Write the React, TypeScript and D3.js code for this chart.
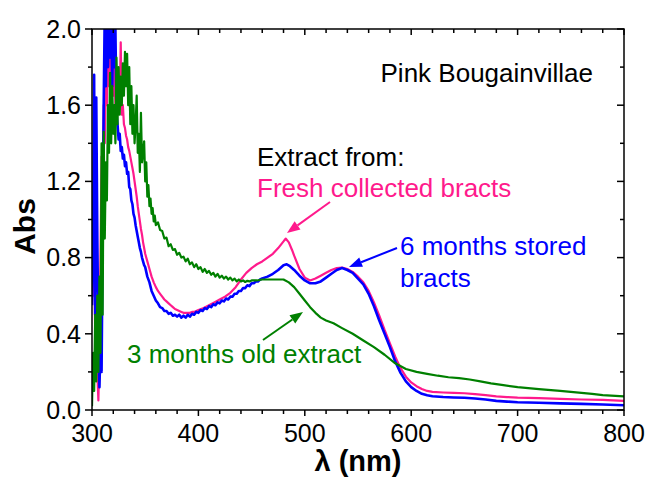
import React from "react";
import * as d3 from "d3";

// Absorbance spectra, [wavelength nm, Abs]
const fresh: [number, number][] = [
  [300,0.9],[301,0.6],[302,0.85],[303,0.4],[304,0.6],[305,0.2],[306,0.05],[307,0.3],[308,0.8],[309,1.33],
  [310,1.1],[311,1.6],[312,1.4],[313,1.75],[314,1.6],[315,2.0],[316,1.7],[317,1.88],[318,1.75],[319,1.85],
  [320,1.65],[321,1.8],[322,1.6],[323,1.75],[324,1.55],[325,1.7],[326,1.6],[327,1.93],[328,1.55],[329,1.6],
  [330,1.5],[331,1.48],[332,1.44],[333,1.42],[334,1.38],[335,1.36],[336,1.33],[337,1.3],[338,1.27],[339,1.24],
  [340,1.2],[341,1.16],[342,1.12],[343,1.07],[344,1.03],[345,0.99],[346,0.95],[347,0.92],[348,0.88],[349,0.85],
  [350,0.82],[352,0.78],[354,0.74],[356,0.7],[358,0.67],[360,0.645],[362,0.625],[364,0.61],[366,0.595],[368,0.58],
  [370,0.57],[372,0.56],[374,0.55],[376,0.54],[378,0.53],[380,0.525],[382,0.52],[384,0.515],[386,0.51],[388,0.51],
  [390,0.51],[392,0.51],[394,0.515],[396,0.515],[398,0.52],[400,0.525],[405,0.535],[410,0.55],[415,0.565],[420,0.58],
  [425,0.595],[430,0.615],[435,0.645],[440,0.685],[445,0.72],[450,0.745],[455,0.765],[460,0.78],[465,0.8],[470,0.82],
  [475,0.85],[480,0.885],[482,0.9],[485,0.88],[488,0.84],[490,0.81],[495,0.74],[500,0.695],[505,0.68],[510,0.69],
  [515,0.705],[520,0.72],[525,0.735],[530,0.745],[535,0.748],[540,0.74],[545,0.725],[550,0.7],[555,0.67],[560,0.625],
  [565,0.565],[570,0.495],[575,0.42],[580,0.35],[585,0.28],[590,0.22],[595,0.175],[600,0.145],[605,0.125],[610,0.11],
  [615,0.1],[620,0.095],[630,0.092],[640,0.09],[650,0.088],[660,0.083],[670,0.078],[680,0.072],[690,0.068],[700,0.065],
  [720,0.062],[740,0.058],[760,0.055],[780,0.053],[800,0.048],
];

const sixMonths: [number, number][] = [
  [300,0.55],[301,0.85],[302,1.76],[303,0.5],[304,1.64],[305,0.9],[306,0.4],[307,0.12],[308,0.35],[309,0.2],
  [310,0.9],[311,1.6],[312,2.1],[313,1.7],[314,2.1],[315,1.8],[316,2.1],[317,1.85],[318,2.1],[319,1.7],
  [320,2.05],[321,1.8],[322,2.0],[323,1.55],[324,1.5],[325,1.42],[326,1.45],[327,1.36],[328,1.38],[329,1.32],
  [330,1.34],[331,1.28],[332,1.3],[333,1.24],[334,1.25],[335,1.17],[336,1.16],[337,1.1],[338,1.08],[339,1.03],
  [340,1.01],[341,0.97],[342,0.94],[343,0.91],[344,0.88],[345,0.85],[346,0.83],[347,0.8],[348,0.78],[349,0.76],
  [350,0.75],[352,0.7],[354,0.67],[356,0.625],[358,0.6],[360,0.575],[362,0.56],[364,0.54],[366,0.535],[368,0.52],
  [370,0.52],[372,0.505],[374,0.51],[376,0.495],[378,0.5],[380,0.49],[382,0.5],[384,0.485],[386,0.495],[388,0.485],
  [390,0.5],[392,0.49],[394,0.505],[396,0.5],[398,0.515],[400,0.51],[402,0.525],[404,0.52],[406,0.535],[408,0.53],
  [410,0.545],[412,0.54],[414,0.555],[416,0.55],[418,0.565],[420,0.56],[422,0.575],[424,0.57],[426,0.585],[428,0.58],
  [430,0.595],[432,0.595],[434,0.61],[436,0.61],[438,0.625],[440,0.625],[442,0.64],[444,0.64],[446,0.655],[448,0.65],
  [450,0.665],[452,0.665],[454,0.675],[456,0.675],[458,0.685],[460,0.69],[465,0.7],[470,0.715],[475,0.735],[480,0.76],
  [483,0.765],[486,0.755],[490,0.735],[495,0.705],[500,0.68],[505,0.665],[510,0.665],[515,0.675],[520,0.695],[525,0.715],
  [530,0.735],[535,0.745],[540,0.735],[545,0.72],[550,0.69],[555,0.66],[560,0.61],[565,0.545],[570,0.47],[575,0.4],
  [580,0.33],[585,0.255],[590,0.195],[595,0.15],[600,0.12],[605,0.1],[610,0.085],[615,0.077],[620,0.072],[630,0.068],
  [640,0.066],[650,0.064],[660,0.06],[670,0.055],[680,0.048],[690,0.044],[700,0.041],[720,0.038],[740,0.035],[760,0.032],
  [780,0.029],[800,0.025],
];

const threeMonths: [number, number][] = [
  [300,0.02],[301,0.3],[302,0.1],[303,0.5],[304,0.15],[305,0.6],[306,0.2],[307,0.7],[308,0.3],[309,1.4],
  [310,0.5],[311,1.46],[312,0.9],[313,1.3],[314,1.1],[315,1.6],[316,1.35],[317,1.77],[318,1.4],[319,1.7],
  [320,1.45],[321,1.6],[322,1.4],[323,1.85],[324,1.5],[325,1.8],[326,1.55],[327,1.75],[328,1.6],[329,1.82],
  [330,1.65],[331,1.88],[332,1.7],[333,1.87],[334,1.6],[335,1.8],[336,1.5],[337,1.7],[338,1.45],[339,1.6],
  [340,1.4],[341,1.5],[342,1.65],[343,1.35],[344,1.45],[345,1.25],[346,1.56],[347,1.3],[348,1.35],[349,1.41],
  [350,1.2],[351,1.3],[352,1.12],[353,1.18],[354,1.07],[355,1.11],[356,1.03],[357,1.06],[358,0.99],[359,1.02],
  [360,0.97],[362,0.985],[364,0.945],[366,0.94],[368,0.9],[370,0.905],[372,0.86],[374,0.87],[376,0.84],[378,0.845],
  [380,0.815],[382,0.825],[384,0.8],[386,0.805],[388,0.78],[390,0.795],[392,0.765],[394,0.775],[396,0.75],[398,0.765],
  [400,0.74],[402,0.75],[404,0.725],[406,0.74],[408,0.72],[410,0.73],[412,0.71],[414,0.72],[416,0.7],[418,0.715],
  [420,0.695],[422,0.705],[424,0.69],[426,0.7],[428,0.685],[430,0.695],[432,0.68],[434,0.69],[436,0.675],[438,0.685],
  [440,0.675],[442,0.68],[444,0.672],[446,0.678],[448,0.675],[450,0.68],[455,0.68],[460,0.685],[465,0.685],[470,0.685],
  [475,0.685],[480,0.685],[485,0.67],[490,0.645],[495,0.61],[500,0.575],[505,0.54],[510,0.51],[515,0.485],[520,0.47],
  [527,0.455],[535,0.43],[545,0.4],[555,0.365],[565,0.33],[575,0.29],[585,0.245],[595,0.215],[605,0.2],[615,0.19],
  [625,0.18],[635,0.172],[645,0.167],[655,0.16],[665,0.15],[675,0.14],[685,0.132],[700,0.12],[720,0.11],[740,0.1],
  [760,0.09],[770,0.085],[780,0.078],[800,0.072],
];

const xTicks = [300, 400, 500, 600, 700, 800];
const yTicks = [0.0, 0.4, 0.8, 1.2, 1.6, 2.0];

const PINK = "#ff1a8c";
const BLUE = "#0000ff";
const GREEN = "#008000";
const FONT = "'Liberation Sans', Arial, sans-serif";

function Arrow({ x1, y1, x2, y2, color }: { x1: number; y1: number; x2: number; y2: number; color: string }) {
  const a = Math.atan2(y2 - y1, x2 - x1);
  const len = 13, hw = 5;
  const bx = x2 - len * Math.cos(a), by = y2 - len * Math.sin(a);
  const px = -Math.sin(a) * hw, py = Math.cos(a) * hw;
  return (
    <g>
      <line x1={x1} y1={y1} x2={bx} y2={by} stroke={color} strokeWidth={2} />
      <polygon points={`${x2},${y2} ${bx + px},${by + py} ${bx - px},${by - py}`} fill={color} />
    </g>
  );
}

export default function App() {
  const width = 647;
  const height = 477;
  const margin = { top: 29, left: 92, bottom: 67, right: 23 };

  const x = d3.scaleLinear().domain([300, 800]).range([margin.left, width - margin.right]);
  const y = d3.scaleLinear().domain([0, 2]).range([height - margin.bottom, margin.top]);
  const line = d3.line<[number, number]>().x(d => x(d[0])).y(d => y(d[1]));

  const x0 = x.range()[0], x1 = x.range()[1];
  const y0 = y.range()[0], y1 = y.range()[1];
  const xMinor = x.ticks(20);
  const yMinor = y.ticks(10);

  return (
    <svg width={width} height={height} style={{ position: "absolute", left: 0, top: 0, background: "#fff" }} fontFamily={FONT}>
      <defs>
        <clipPath id="plot">
          <rect x={x0} y={y1} width={x1 - x0} height={y0 - y1} />
        </clipPath>
      </defs>

      <g clipPath="url(#plot)" fill="none" strokeLinejoin="round">
        <path d={line(fresh) || ""} stroke={PINK} strokeWidth={2.2} />
        <path d={line(sixMonths) || ""} stroke={BLUE} strokeWidth={2.6} />
        <path d={line(threeMonths) || ""} stroke={GREEN} strokeWidth={2.2} />
      </g>

      {/* frame */}
      <rect x={x0} y={y1} width={x1 - x0} height={y0 - y1} fill="none" stroke="#000" strokeWidth={1.5} />

      {/* x ticks: out on bottom, in on top */}
      {xMinor.map(t => {
        const major = xTicks.includes(t);
        const l = major ? 6 : 4;
        return (
          <g key={"x" + t} stroke="#000" strokeWidth={1.5}>
            <line x1={x(t)} x2={x(t)} y1={y0} y2={y0 + l} />
            <line x1={x(t)} x2={x(t)} y1={y1} y2={y1 + l} />
          </g>
        );
      })}
      {/* y ticks: out on left, in on right */}
      {yMinor.map(t => {
        const major = yTicks.some(v => Math.abs(v - t) < 1e-6);
        const l = major ? 7 : 4;
        return (
          <g key={"y" + t} stroke="#000" strokeWidth={1.5}>
            <line x1={x0 - l} x2={x0} y1={y(t)} y2={y(t)} />
            <line x1={x1 - l} x2={x1} y1={y(t)} y2={y(t)} />
          </g>
        );
      })}

      {xTicks.map(t => (
        <text key={"xl" + t} x={x(t)} y={442} textAnchor="middle" fontSize={25} fill="#000">{t}</text>
      ))}
      {yTicks.map(t => (
        <text key={"yl" + t} x={81} y={y(t)} dy="0.35em" textAnchor="end" fontSize={25} fill="#000">{t.toFixed(1)}</text>
      ))}

      <text x={(x0 + x1) / 2} y={471} textAnchor="middle" fontSize={29} fontWeight="bold" fill="#000">λ (nm)</text>
      <text transform={`translate(35,${(y0 + y1) / 2 + 7}) rotate(-90)`} textAnchor="middle" fontSize={30} fontWeight="bold" fill="#000">Abs</text>

      <text x={593} y={82} textAnchor="end" fontSize={26} fill="#000">Pink Bougainvillae</text>
      <text x={257} y={166} fontSize={26} fill="#000">Extract from:</text>
      <text x={257} y={197} fontSize={26} fill={PINK}>Fresh collected bracts</text>
      <text x={400} y={255} fontSize={26} fill={BLUE}>6 months stored</text>
      <text x={400} y={287} fontSize={26} fill={BLUE}>bracts</text>
      <text x={127} y={363} fontSize={26} fill={GREEN}>3 months old extract</text>

      <Arrow x1={330} y1={202} x2={287} y2={233} color={PINK} />
      <Arrow x1={397} y1={248} x2={349} y2={267} color={BLUE} />
      <Arrow x1={263} y1={340} x2={303} y2={312} color={GREEN} />
    </svg>
  );
}
